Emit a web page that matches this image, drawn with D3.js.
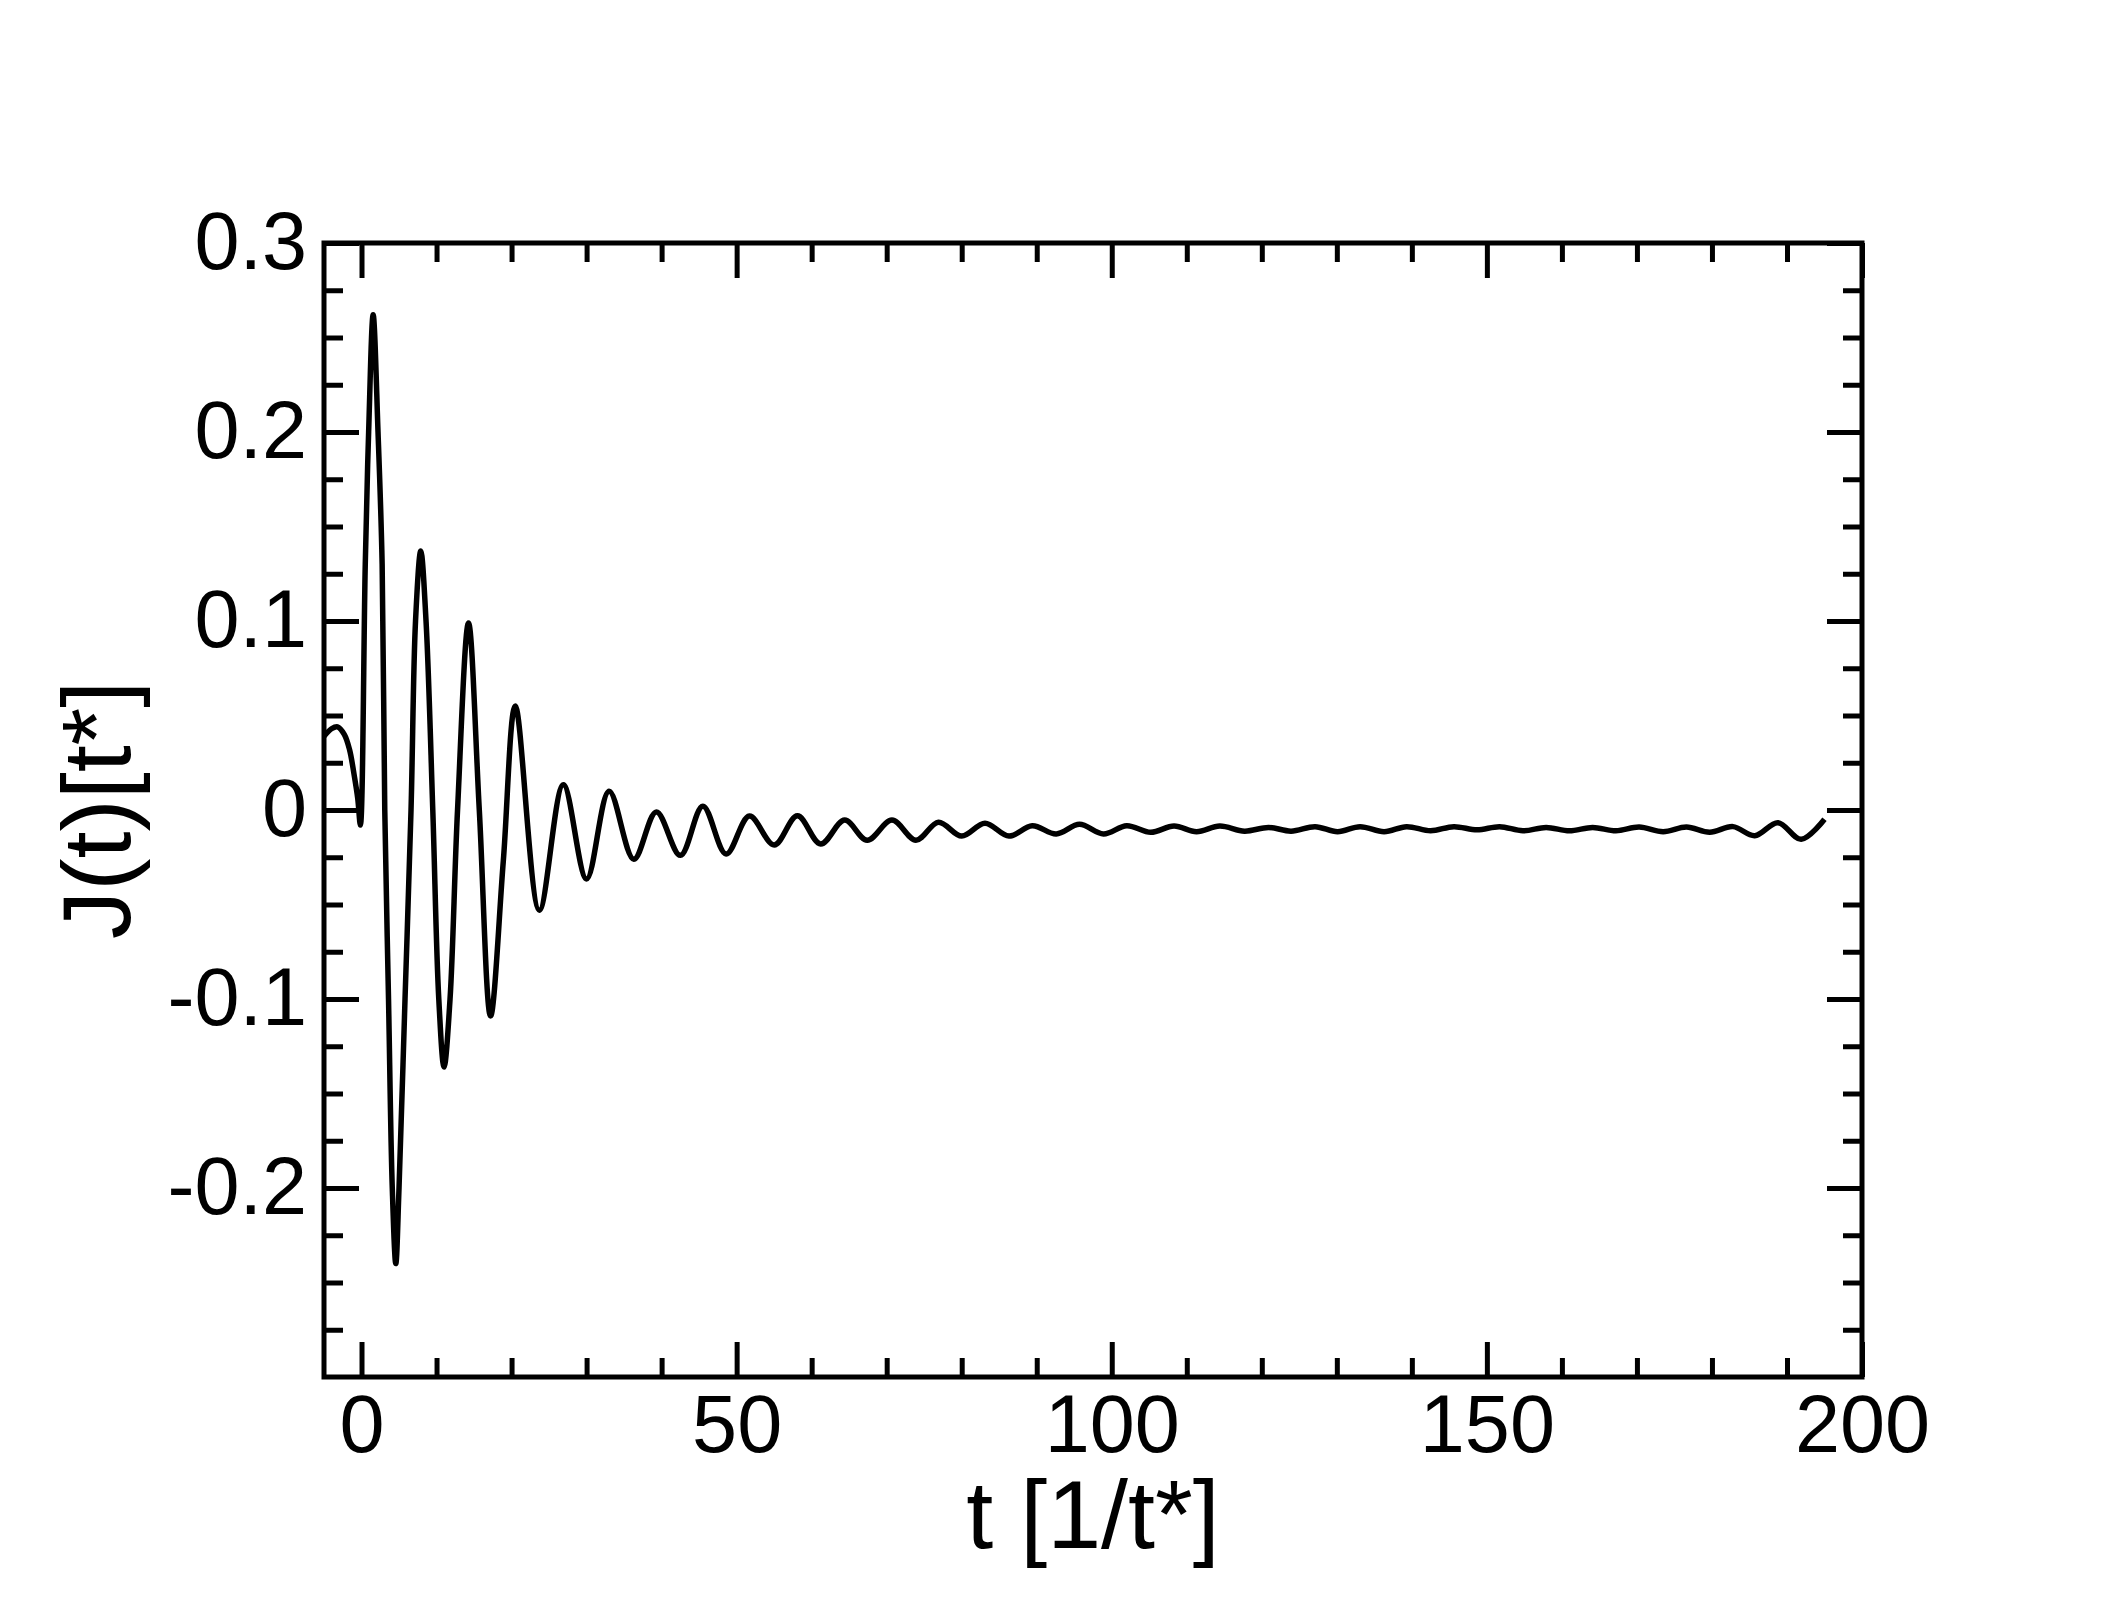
<!DOCTYPE html>
<html>
<head>
<meta charset="utf-8">
<script src="https://cdn.jsdelivr.net/npm/d3@7"></script>
<style>
  html, body { margin: 0; padding: 0; background: #fff; }
  svg { display: block; }
</style>
</head>
<body>
<svg id="chart"></svg>
<script>
// values (t in 1/t*, J in t*)
const tValues = [
  -5, -4, -3.2, -2.3, -1.6, -1.0, -0.5, -0.15, 0.5, 0.95, 1.55, 2.2, 2.75, 3.1, 3.6, 4.1, 4.57,
  5.0, 5.8, 6.6, 7.2, 7.9, 8.6, 9.5, 10.3, 11.0, 11.8, 12.8, 14.26, 15.7,
  17.2, 18.9, 20.5, 23.7, 26.9, 30.0, 33.0, 36.3, 39.3, 42.5, 45.5, 48.6, 51.7, 55.0,
  58.1, 61.2, 64.4, 67.4, 70.7, 73.9, 76.9, 80.0, 83.1, 86.3, 89.4, 92.6, 95.7, 98.9,
  102.0, 105.2, 108.3, 111.3, 114.4, 117.7, 120.9, 123.9, 127.1, 130.1, 133.1, 136.3,
  139.3, 142.5, 145.6, 148.7, 151.7, 154.8, 157.9, 161.0, 164.1, 167.2, 170.3, 173.5,
  176.6, 179.7, 182.8, 185.7, 188.8, 191.9, 195.0
];
const jValues = [
  0.039, 0.043, 0.044, 0.040, 0.032, 0.019, 0.006, -0.008, 0.13, 0.2, 0.262, 0.2, 0.13, 0.0, -0.1, -0.2, -0.240,
  -0.2, -0.1, 0.0, 0.1, 0.137, 0.1, 0.0, -0.1, -0.136, -0.1, 0.0, 0.099, 0.0,
  -0.109, -0.027, 0.055, -0.053, 0.0134, -0.0365, 0.0099, -0.026, -0.001, -0.024, 0.002, -0.0233, -0.0032, -0.0185,
  -0.003, -0.018, -0.0053, -0.016, -0.0053, -0.016, -0.0065, -0.0138, -0.007, -0.0138, -0.0083, -0.0127, -0.0076, -0.0127,
  -0.0083, -0.0118, -0.0085, -0.0115, -0.0085, -0.0112, -0.0092, -0.0112, -0.0088, -0.0115, -0.0088, -0.0115,
  -0.0088, -0.011, -0.0088, -0.0105, -0.0088, -0.011, -0.0092, -0.011, -0.0092, -0.011, -0.009, -0.0115,
  -0.009, -0.0118, -0.0088, -0.0136, -0.0067, -0.0155, -0.0049
];

const xMajor = [0, 50, 100, 150, 200];
const xTickLabels = ["0", "50", "100", "150", "200"];
const xMinor = d3.range(0, 201, 10).filter(v => v % 50 !== 0);
const yMajor = [-0.2, -0.1, 0, 0.1, 0.2, 0.3];
const yTickLabels = ["-0.2", "-0.1", "0", "0.1", "0.2", "0.3"];
const yMinor = d3.range(-12, 13).map(i => i * 0.025).filter(v => Math.abs(Math.round(v * 40) % 4) !== 0);

const width = 2112, height = 1619;
const margin = { left: 324, right: 2112 - 1862, top: 243, bottom: 1619 - 1377 };
const font = "'Liberation Sans', Arial, Helvetica, sans-serif";

const svg = d3.select("#chart")
  .attr("width", width)
  .attr("height", height)
  .attr("viewBox", `0 0 ${width} ${height}`);

svg.append("rect").attr("width", width).attr("height", height).attr("fill", "#fff");

const x = d3.scaleLinear().domain([-5, 200]).range([margin.left, width - margin.right]);
const y = d3.scaleLinear().domain([-0.3, 0.3]).range([height - margin.bottom, margin.top]);

const data = tValues.map((t, i) => ({ t: t, j: jValues[i] }));

// ticks, all pointing inward
function tickAxis(axis, transform, values, size, labels) {
  const g = svg.append("g")
    .attr("transform", transform)
    .call(axis.tickValues(values).tickSizeInner(-size).tickSizeOuter(0)
      .tickPadding(labels ? 17 : 0)
      .tickFormat(labels ? ((d, i) => labels[i]) : () => ""));
  g.select(".domain").remove();
  g.selectAll(".tick line").attr("stroke", "#000").attr("stroke-width", 5);
  g.selectAll(".tick text")
    .attr("fill", "#000")
    .style("font-family", font)
    .style("font-size", "81px");
  return g;
}

const bottomY = height - margin.bottom, rightX = width - margin.right;
tickAxis(d3.axisBottom(x), `translate(0,${bottomY})`, xMajor, 35, xTickLabels);
tickAxis(d3.axisBottom(x), `translate(0,${bottomY})`, xMinor, 19, null);
tickAxis(d3.axisTop(x), `translate(0,${margin.top})`, xMajor, 35, null);
tickAxis(d3.axisTop(x), `translate(0,${margin.top})`, xMinor, 19, null);
tickAxis(d3.axisLeft(y), `translate(${margin.left},0)`, yMajor, 35, yTickLabels);
tickAxis(d3.axisLeft(y), `translate(${margin.left},0)`, yMinor, 19, null);
tickAxis(d3.axisRight(y), `translate(${rightX},0)`, yMajor, 35, null);
tickAxis(d3.axisRight(y), `translate(${rightX},0)`, yMinor, 19, null);

// curve
const line = d3.line()
  .x(d => x(d.t))
  .y(d => y(d.j))
  .curve(d3.curveCatmullRom.alpha(0.5));

svg.append("path")
  .datum(data)
  .attr("fill", "none")
  .attr("stroke", "#000")
  .attr("stroke-width", 5.5)
  .attr("stroke-linejoin", "round")
  .attr("d", line);

// frame
svg.append("rect")
  .attr("x", margin.left)
  .attr("y", margin.top)
  .attr("width", rightX - margin.left)
  .attr("height", bottomY - margin.top)
  .attr("fill", "none")
  .attr("stroke", "#000")
  .attr("stroke-width", 5);

// axis titles
svg.append("text")
  .attr("x", (margin.left + rightX) / 2)
  .attr("y", 1548)
  .attr("text-anchor", "middle")
  .style("font-family", font)
  .style("font-size", "97px")
  .text("t [1/t*]");

svg.append("text")
  .attr("transform", `translate(130,${(margin.top + bottomY) / 2}) rotate(-90)`)
  .attr("text-anchor", "middle")
  .style("font-family", font)
  .style("font-size", "97px")
  .text("J(t)[t*]");
</script>
</body>
</html>
